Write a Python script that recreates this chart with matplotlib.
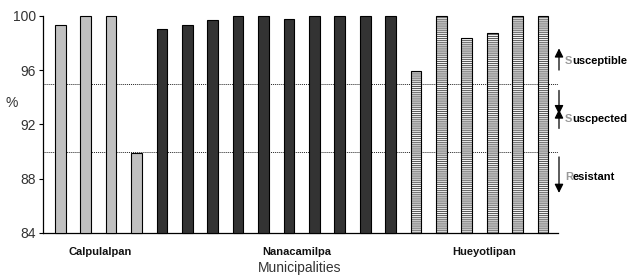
import matplotlib
matplotlib.use("Agg")
import matplotlib.pyplot as plt
import matplotlib.transforms as mtransforms
import numpy as np

# Data
groups = ["Calpulalpan", "Nanacamilpa", "Hueyotlipan"]
calpulalpan = [99.3, 100.0, 100.0, 89.9]
nanacamilpa = [99.0, 99.3, 99.7, 100.0, 100.0, 99.8, 100.0, 100.0, 100.0, 100.0]
hueyotlipan = [95.9, 100.0, 98.4, 98.7, 100.0, 100.0]
yticks = [84, 88, 92, 96, 100]
thresholds = [95, 90]

plt.rcParams['font.family'] = ['Liberation Sans', 'DejaVu Sans']
plt.rcParams['hatch.linewidth'] = 0.7

fig = plt.figure(figsize=(6.33, 2.77), dpi=100)
ax = fig.add_axes([0.068, 0.159, 0.8135, 0.784])

vals = calpulalpan + nanacamilpa + hueyotlipan
x = np.arange(len(vals))
n1, n2 = len(calpulalpan), len(nanacamilpa)
w = 0.42
base = 84
ax.bar(x[:n1], np.array(calpulalpan) - base, bottom=base, width=w, color='#c0c0c0',
       edgecolor='black', linewidth=0.8, zorder=3, clip_on=False)
ax.bar(x[n1:n1 + n2], np.array(nanacamilpa) - base, bottom=base, width=w, color='#333333',
       edgecolor='black', linewidth=0.8, zorder=3, clip_on=False)
xh = x[n1 + n2:]
ax.bar(xh, np.array(hueyotlipan) - base, bottom=base, width=w, color='#f4f4f4',
       edgecolor='#555555', hatch='--------', linewidth=0, zorder=3, clip_on=False)
ax.bar(xh, np.array(hueyotlipan) - base, bottom=base, width=w, color='none',
       edgecolor='black', linewidth=0.8, zorder=4, clip_on=False)

for t in thresholds:
    ax.axhline(t, color='#222222', linestyle=(0, (1, 1)), linewidth=0.7, zorder=2)

ax.set_ylim(84, 100)
ax.set_xlim(-0.68, 19.59)
ax.set_yticks(yticks)
ax.set_yticklabels([str(v) for v in yticks], fontsize=10, color='#333333',
                   family=['Liberation Sans Narrow', 'Liberation Sans'])
ax.set_xticks([])
ax.tick_params(axis='y', direction='out', length=3, width=0.8, pad=2)
for s in ['top', 'right']:
    ax.spines[s].set_visible(False)
ax.spines['left'].set_linewidth(0.9)
ax.spines['bottom'].set_linewidth(0.9)

fig.text(12 / 633, 1 - 103 / 277, "%", fontsize=10, ha='center', va='center', color='#333333')

# group labels
label_x = [1.56, 9.32, 16.7]
for g, lx in zip(groups, label_x):
    ax.text(lx, 82.6, g, fontsize=8, ha='center', va='center', color='#111111',
            fontweight='bold')
fig.text(300 / 633, 1 - 268 / 277, "Municipalities", fontsize=10, ha='center',
         va='center', color='#333333')

# right-side annotations
tr = mtransforms.blended_transform_factory(fig.transFigure, ax.transData)
ax_x = 559 / 633
arrows = [(96.0, 97.6), (94.5, 92.75), (91.7, 93.1), (89.6, 86.95)]
for y0, y1 in arrows:
    ax.annotate("", xy=(ax_x, y1), xytext=(ax_x, y0), xycoords=tr, textcoords=tr,
                arrowprops=dict(arrowstyle='-|>', color='black', lw=0.9,
                                mutation_scale=13, shrinkA=0, shrinkB=0),
                annotation_clip=False)

labels = [("S", "usceptible", 96.65), ("S", "uscpected", 92.4), ("R", "esistant", 88.1)]
fig.canvas.draw()
r = fig.canvas.get_renderer()
for first, rest, yy in labels:
    t1 = ax.text(565 / 633, yy, first, transform=tr, fontsize=8, color='#999999',
                 ha='left', va='center', fontweight='bold', clip_on=False)
    bb = t1.get_window_extent(renderer=r)
    xr = bb.x1 / fig.bbox.width
    ax.text(xr, yy, rest, transform=tr, fontsize=8, color='black',
            ha='left', va='center', fontweight='bold', clip_on=False)

fig.savefig("out.png", dpi=100)
